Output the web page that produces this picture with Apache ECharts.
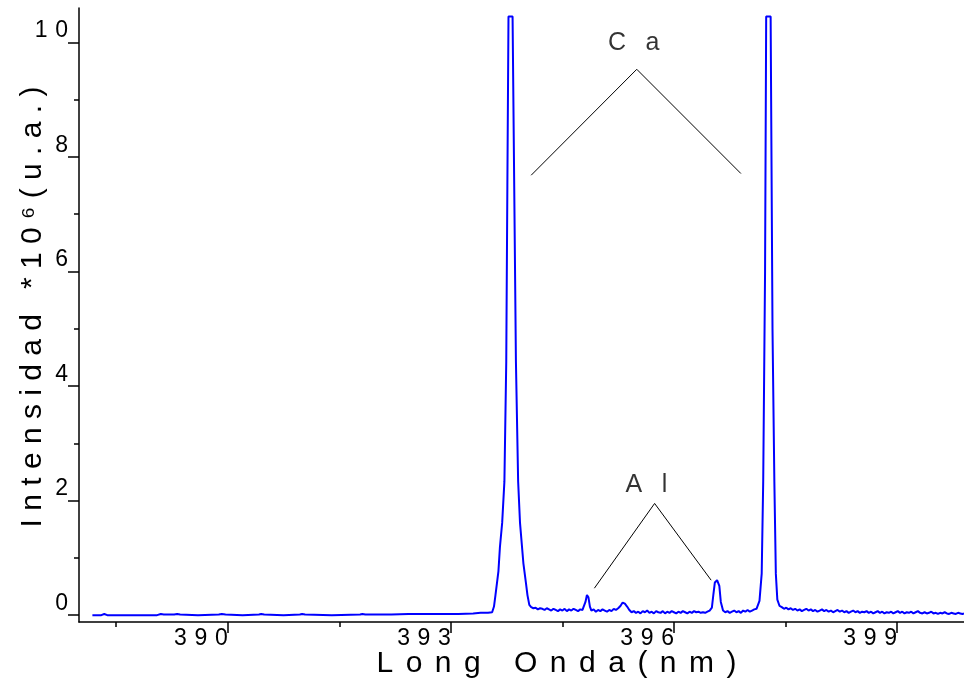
<!DOCTYPE html>
<html>
<head>
<meta charset="utf-8">
<script src="https://cdn.jsdelivr.net/npm/echarts@6/dist/echarts.min.js"></script>
<style>
  html, body { margin: 0; padding: 0; background: #ffffff; }
  #chart { width: 964px; height: 680px; }
</style>
</head>
<body>
<div id="chart"></div>
<script>
// Emission spectrum, 388-400 nm (intensity in units of 10^6)
const wavelength = [
  388.18, 388.30, 388.34, 388.38, 388.70, 389.05, 389.10, 389.14, 389.20, 389.28,
  389.32, 389.36, 389.60, 389.88, 389.92, 389.97, 390.20, 390.42, 390.45, 390.49,
  390.75, 390.97, 391.00, 391.04, 391.40, 391.78, 391.81, 391.85, 392.20, 392.43,
  392.80, 393.10, 393.30, 393.40, 393.50, 393.555,
  393.58, 393.60, 393.64, 393.66, 393.69, 393.72, 393.745, 393.76, 393.775, 393.80,
  393.83, 393.855, 393.875, 393.905, 393.93, 393.975, 394.01, 394.03, 394.055, 394.08,
  394.11, 394.14, 394.17, 394.20, 394.23, 394.26, 394.29, 394.32, 394.35, 394.38,
  394.41, 394.44, 394.47, 394.50, 394.53, 394.56, 394.59, 394.62, 394.65, 394.68,
  394.71, 394.74, 394.77, 394.79,
  394.81, 394.83, 394.85, 394.87, 394.89,
  394.92, 394.95, 394.98, 395.01, 395.04, 395.07, 395.10, 395.13, 395.16, 395.19,
  395.22, 395.25, 395.28, 395.31, 395.34, 395.37, 395.40, 395.43,
  395.46, 395.49, 395.52, 395.55, 395.58, 395.61, 395.64, 395.67, 395.70, 395.73,
  395.76, 395.79, 395.82, 395.85, 395.88, 395.91, 395.94, 395.97, 396.00, 396.03,
  396.06, 396.09, 396.12, 396.15, 396.18, 396.21, 396.24, 396.27, 396.30, 396.33,
  396.36, 396.39, 396.42, 396.45, 396.48,
  396.51, 396.53, 396.55, 396.58, 396.61, 396.63, 396.66,
  396.69, 396.72, 396.75, 396.78, 396.81, 396.84, 396.87, 396.90, 396.93, 396.96,
  396.99, 397.02, 397.05, 397.08, 397.11,
  397.15, 397.18, 397.20, 397.225, 397.24, 397.27, 397.30, 397.325, 397.35, 397.37,
  397.39, 397.42,
  397.45, 397.48, 397.51, 397.54, 397.57, 397.60, 397.63, 397.66, 397.69, 397.72,
  397.75, 397.78, 397.81, 397.84, 397.87, 397.90, 397.93, 397.96, 397.99, 398.02,
  398.05, 398.08, 398.11, 398.14, 398.17, 398.20, 398.23, 398.26, 398.29, 398.32,
  398.35, 398.38, 398.41, 398.44, 398.47, 398.50, 398.53, 398.56, 398.59, 398.62,
  398.65, 398.68, 398.71, 398.74, 398.77, 398.80, 398.83, 398.86, 398.89, 398.92,
  398.95, 398.98, 399.01, 399.04, 399.07, 399.10, 399.13, 399.16, 399.19, 399.22,
  399.25, 399.28, 399.31, 399.34, 399.37, 399.40, 399.43, 399.46, 399.49, 399.52,
  399.55, 399.58, 399.61, 399.64, 399.67, 399.70, 399.73, 399.76, 399.79, 399.82,
  399.85, 399.88, 399.90
];
const intensity = [
  0.00, 0.00, 0.02, 0.00, 0.00, 0.00, 0.02, 0.01, 0.01, 0.01,
  0.02, 0.01, 0.00, 0.01, 0.02, 0.01, 0.00, 0.01, 0.02, 0.01,
  0.00, 0.01, 0.02, 0.01, 0.00, 0.01, 0.02, 0.01, 0.01, 0.02,
  0.02, 0.02, 0.03, 0.04, 0.04, 0.05,
  0.15, 0.35, 0.77, 1.19, 1.61, 2.33, 4.43, 7.50, 10.45, 10.45,
  10.45, 10.45, 4.43, 2.33, 1.61, 0.91, 0.56, 0.35, 0.18, 0.14,
  0.12, 0.13, 0.10, 0.12, 0.11, 0.09, 0.12, 0.10, 0.08, 0.11,
  0.09, 0.07, 0.10, 0.08, 0.11, 0.07, 0.10, 0.08, 0.11, 0.09,
  0.07, 0.10, 0.09, 0.11,
  0.23, 0.35, 0.31, 0.15, 0.08,
  0.10, 0.06, 0.09, 0.07, 0.10, 0.08, 0.06, 0.09, 0.07, 0.11,
  0.09, 0.12, 0.16, 0.22, 0.20, 0.15, 0.09, 0.05,
  0.07, 0.04, 0.06, 0.03, 0.07, 0.05, 0.08, 0.04, 0.06, 0.03,
  0.07, 0.05, 0.04, 0.07, 0.03, 0.06, 0.04, 0.07, 0.05, 0.03,
  0.06, 0.04, 0.07, 0.05, 0.03, 0.06, 0.04, 0.07, 0.05, 0.06,
  0.04, 0.05, 0.04, 0.06, 0.08,
  0.13, 0.36, 0.57, 0.61, 0.51, 0.23, 0.08,
  0.05, 0.07, 0.04, 0.06, 0.08, 0.05, 0.07, 0.04, 0.08, 0.06,
  0.09, 0.06, 0.08, 0.10, 0.11,
  0.25, 0.73, 2.33, 6.00, 10.45, 10.45, 10.45, 5.00, 2.33, 0.72,
  0.27, 0.16,
  0.14, 0.11, 0.13, 0.10, 0.12, 0.09, 0.11, 0.08, 0.10, 0.07,
  0.09, 0.11, 0.08, 0.10, 0.07, 0.09, 0.06, 0.08, 0.10, 0.07,
  0.09, 0.06, 0.08, 0.05, 0.07, 0.09, 0.06, 0.08, 0.05, 0.07,
  0.04, 0.06, 0.08, 0.05, 0.07, 0.04, 0.06, 0.05, 0.07, 0.04,
  0.06, 0.03, 0.05, 0.07, 0.04, 0.06, 0.03, 0.05, 0.04, 0.06,
  0.03, 0.05, 0.07, 0.04, 0.06, 0.03, 0.05, 0.04, 0.06, 0.03,
  0.05, 0.07, 0.04, 0.03, 0.05, 0.03, 0.04, 0.06, 0.03, 0.04,
  0.02, 0.04, 0.03, 0.05, 0.03, 0.02, 0.04, 0.03, 0.02, 0.04,
  0.03, 0.02, 0.03
];

// Axis ticks
const xMajorTicks = [390, 393, 396, 399];
const xMinorTicks = [388.5, 391.5, 394.5, 397.5];
const yMajorTicks = [0, 2, 4, 6, 8, 10];
const yMinorTicks = [1, 3, 5, 7, 9];

// Element labels and their leader lines (wavelength, intensity)
const labelNames = ['Ca', 'Al'];
const labelPoints = [[395.46, 9.98], [395.63, 2.27]];
const caLeader = [[394.08, 7.68], [395.50, 9.53], [396.90, 7.71]];
const alLeader = [[394.93, 0.47], [395.74, 1.95], [396.50, 0.61]];

const FONT = '"Liberation Sans", Arial, sans-serif';
const spaced = (s, gap) => String(s).split('').join(gap);

const chart = echarts.init(document.getElementById('chart'), null, { renderer: 'canvas' });

const axisCommon = { color: '#000', fontFamily: FONT };
const tickStyle = { color: '#000', width: 1.5 };

chart.setOption({
  animation: false,
  backgroundColor: '#ffffff',
  grid: { left: 79, right: 0, top: 8, bottom: 58, containLabel: false, outerBoundsMode: 'none' },
  xAxis: [
    {
      type: 'value', min: 388, max: 399.9,
      axisLine: { show: true, onZero: false, lineStyle: { color: '#000', width: 1.5 } },
      axisTick: { show: true, customValues: xMajorTicks, length: 11, lineStyle: tickStyle },
      axisLabel: {
        customValues: xMajorTicks, ...axisCommon, fontSize: 23, margin: 5, align: 'right',
        formatter: v => spaced(v, '\u2004')
      },
      splitLine: { show: false },
      name: spaced('Long Onda(nm)', '\u2005\u2006'),
      nameLocation: 'middle', nameGap: 27, nameMoveOverlap: false,
      nameTextStyle: { ...axisCommon, fontSize: 30, padding: [0, 0, 0, 70] }
    },
    {
      type: 'value', min: 388, max: 399.9, position: 'bottom',
      axisLine: { show: false, onZero: false },
      axisTick: { show: true, customValues: xMinorTicks, length: 5, lineStyle: tickStyle },
      axisLabel: { show: false },
      splitLine: { show: false }
    }
  ],
  yAxis: [
    {
      type: 'value', min: -0.12, max: 10.6,
      axisLine: { show: true, onZero: false, lineStyle: { color: '#000', width: 1.5 } },
      axisTick: { show: true, customValues: yMajorTicks, length: 11, lineStyle: tickStyle },
      axisLabel: {
        customValues: yMajorTicks, ...axisCommon, fontSize: 23, margin: 11, verticalAlign: 'bottom',
        formatter: v => spaced(v, '\u2004')
      },
      splitLine: { show: false },
      name: spaced('Intensidad *10\u2076(u.a.)', ' '),
      nameLocation: 'middle', nameGap: 31, nameMoveOverlap: false,
      nameTextStyle: { ...axisCommon, fontSize: 30, padding: [0, 0, 0, 16] }
    },
    {
      type: 'value', min: -0.12, max: 10.6, position: 'left',
      axisLine: { show: false, onZero: false },
      axisTick: { show: true, customValues: yMinorTicks, length: 5, lineStyle: tickStyle },
      axisLabel: { show: false },
      splitLine: { show: false }
    }
  ],
  series: [
    {
      type: 'line',
      data: wavelength.map((w, i) => [w, intensity[i]]),
      showSymbol: false,
      symbol: 'none',
      lineStyle: { color: '#0000ff', width: 2 },
      z: 3
    },
    {
      type: 'line', data: caLeader, symbol: 'none',
      lineStyle: { color: '#000', width: 1 }, z: 4
    },
    {
      type: 'line', data: alLeader, symbol: 'none',
      lineStyle: { color: '#000', width: 1 }, z: 4
    },
    {
      type: 'scatter',
      data: labelPoints.map((p, i) => ({ value: p, name: labelNames[i] })),
      symbolSize: 0,
      label: {
        show: true, position: 'inside',
        formatter: p => spaced(p.name, '\u2002 '),
        color: '#000', fontFamily: FONT, fontSize: 25
      },
      z: 5
    }
  ]
});
</script>
</body>
</html>
